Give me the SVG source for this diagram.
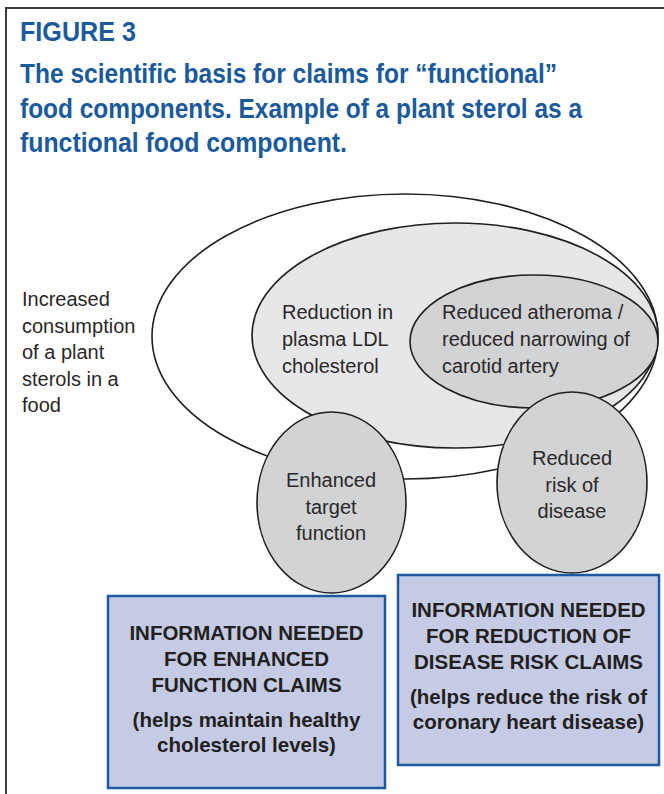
<svg xmlns="http://www.w3.org/2000/svg" width="664" height="794" viewBox="0 0 664 794">
<style>
.title{font-family:"Liberation Sans",Arial,sans-serif;font-weight:bold;fill:#1b5a9c;font-size:27px}
.lbl{font-family:"Liberation Sans",Arial,sans-serif;font-size:20px;fill:#2b2728}
.box{fill:#c5cbe4;stroke:#1b5aa0;stroke-width:2.5}
.bt{font-family:"Liberation Sans",Arial,sans-serif;font-weight:bold;font-size:20.5px;fill:#231f20;text-anchor:middle}
.el{stroke:#231f20;stroke-width:1.6}
</style>
<rect width="664" height="794" fill="#ffffff"/>
<path d="M6,794 V8 H664" fill="none" stroke="#3a3a3a" stroke-width="2"/>
<g id="title">
<text class="title" x="20" y="41" textLength="116" lengthAdjust="spacingAndGlyphs">FIGURE 3</text>
<text class="title" x="20" y="83" textLength="537" lengthAdjust="spacingAndGlyphs">The scientific basis for claims for “functional”</text>
<text class="title" x="20" y="117.5" textLength="562" lengthAdjust="spacingAndGlyphs">food components. Example of a plant sterol as a</text>
<text class="title" x="20" y="152" textLength="327" lengthAdjust="spacingAndGlyphs">functional food component.</text>
</g>
<g id="consumption">
<text class="lbl" x="22" y="306">Increased</text>
<text class="lbl" x="22" y="332.5">consumption</text>
<text class="lbl" x="22" y="359">of a plant</text>
<text class="lbl" x="22" y="385.5">sterols in a</text>
<text class="lbl" x="22" y="412">food</text>
</g>
<g id="outer-ellipse">
<ellipse class="el" cx="405" cy="336.5" rx="253" ry="142.5" fill="#ffffff"/>
</g>
<g id="ldl-reduction">
<ellipse class="el" cx="455" cy="335.5" rx="203" ry="112.5" fill="#e6e7e8"/>
<text class="lbl" x="282" y="319">Reduction in</text>
<text class="lbl" x="282" y="346">plasma LDL</text>
<text class="lbl" x="282" y="373">cholesterol</text>
</g>
<g id="atheroma">
<ellipse class="el" cx="534" cy="341.5" rx="124" ry="66.5" fill="#d1d3d4"/>
<text class="lbl" x="442" y="319">Reduced atheroma /</text>
<text class="lbl" x="442" y="346">reduced narrowing of</text>
<text class="lbl" x="442" y="373">carotid artery</text>
</g>
<g id="reduced-risk">
<ellipse class="el" cx="572" cy="482.5" rx="75" ry="90.5" fill="#d1d3d4"/>
<text class="lbl" x="572" y="465" text-anchor="middle">Reduced</text>
<text class="lbl" x="572" y="492" text-anchor="middle">risk of</text>
<text class="lbl" x="572" y="518" text-anchor="middle">disease</text>
</g>
<g id="enhanced-function">
<ellipse class="el" cx="331.5" cy="502.5" rx="74.5" ry="90.5" fill="#d1d3d4"/>
<text class="lbl" x="331" y="487" text-anchor="middle">Enhanced</text>
<text class="lbl" x="331" y="513.5" text-anchor="middle">target</text>
<text class="lbl" x="331" y="540" text-anchor="middle">function</text>
</g>
<g id="enhanced-claims-box">
<rect class="box" x="108" y="596" width="277" height="192"/>
<text class="bt" x="246.5" y="640">INFORMATION NEEDED</text>
<text class="bt" x="246.5" y="666">FOR ENHANCED</text>
<text class="bt" x="246.5" y="692">FUNCTION CLAIMS</text>
<text class="bt" x="246.5" y="727">(helps maintain healthy</text>
<text class="bt" x="246.5" y="752">cholesterol levels)</text>
</g>
<g id="risk-claims-box">
<rect class="box" x="398" y="575" width="261" height="190"/>
<text class="bt" x="528.5" y="617">INFORMATION NEEDED</text>
<text class="bt" x="528.5" y="643">FOR REDUCTION OF</text>
<text class="bt" x="528.5" y="669">DISEASE RISK CLAIMS</text>
<text class="bt" x="528.5" y="704">(helps reduce the risk of</text>
<text class="bt" x="528.5" y="729">coronary heart disease)</text>
</g>
<g id="connectors"></g>
</svg>
